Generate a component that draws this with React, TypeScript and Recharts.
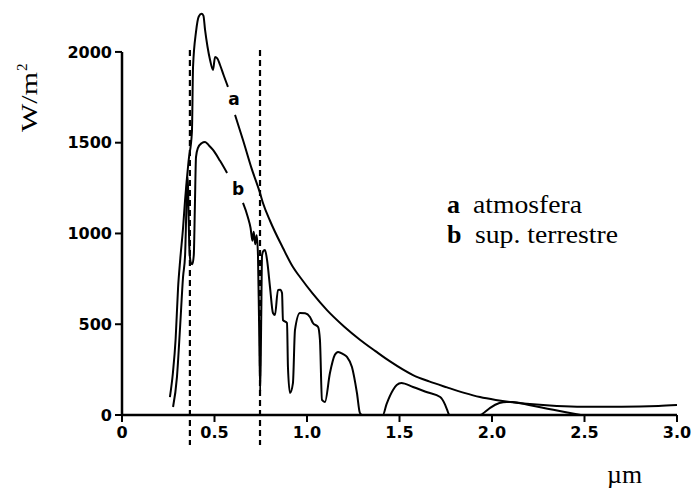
import React from "react";
import { LineChart, Line, XAxis, YAxis, ReferenceLine } from "recharts";

// Curve a: atmosfera (wavelength in µm, irradiance W/m²); null = gap for label
const aWavelength = [
  0.259, 0.275, 0.29, 0.303, 0.315, 0.33, 0.341, 0.36, 0.378, 0.384, 0.4, 0.415, 0.43, 0.44,
  0.449, 0.462, 0.476, 0.492, 0.503, 0.515, 0.53, 0.55, 0.573, 0.592, 0.611, 0.654, 0.7,
  0.746, 0.762, 0.8, 0.87, 0.924, 0.962, 1.03, 1.108, 1.2, 1.286, 1.37, 1.449, 1.573,
  1.66, 1.757, 1.85, 1.935, 2.02, 2.11, 2.205, 2.35, 2.49, 2.7, 2.9, 3.0,
];
const aIrradiance: (number | null)[] = [
  99, 230, 420, 700, 860, 1030, 1185, 1400, 1560, 1917, 2110, 2195, 2210, 2200,
  2121, 2030, 1956, 1901, 1972, 1965, 1928, 1870, 1807, null, 1653, 1515, 1360,
  1223, 1168, 1070, 920, 815, 760, 670, 578, 488, 415, 352, 295, 220,
  185, 152, 122, 99, 83, 70, 60, 50, 46, 46, 50, 55,
];

// Curve b: sup. terrestre
const bWavelength = [
  0.276, 0.297, 0.314, 0.33, 0.341, 0.347, 0.352, 0.356, 0.36, 0.365, 0.372, 0.38, 0.388,
  0.394, 0.4, 0.41, 0.43, 0.449, 0.47, 0.492, 0.53, 0.568, 0.61, 0.654, 0.68, 0.695, 0.705,
  0.712, 0.72, 0.728, 0.735, 0.741, 0.747, 0.752, 0.757, 0.765, 0.773, 0.784, 0.8, 0.816,
  0.827, 0.843, 0.855, 0.865, 0.87, 0.892, 0.897, 0.908, 0.924, 0.935, 0.962, 0.99, 1.016,
  1.032, 1.06, 1.07, 1.081, 1.097, 1.124, 1.15, 1.168, 1.195, 1.216, 1.243, 1.27, 1.286,
  1.3, 1.41, 1.43, 1.465, 1.485, 1.51, 1.573, 1.65, 1.72, 1.745, 1.757, 1.77, 1.935, 1.96,
  1.99, 2.04, 2.08, 2.11, 2.2, 2.3, 2.4, 2.48,
];
const bIrradiance: (number | null)[] = [
  44, 209, 485, 760, 880, 1100, 1290, 1311, 1100, 900, 840, 830, 880,
  1150, 1420, 1470, 1497, 1504, 1485, 1460, 1400, 1333, null, 1168, 1091, 1030, 960,
  1010, 940, 990, 880, 500, 130, 480, 880, 905, 909, 854, 705, 562,
  551, 689, 690, 672, 523, 507, 264, 121, 176, 468, 562, 560, 540,
  507, 485, 413, 83, 72, 231, 330, 347, 335, 320, 264, 121, 11,
  0, 0, 60, 138, 165, 176, 154, 125, 99, 60, 30, 0, 0, 15,
  39, 66, 72, 72, 55, 35, 15, 0,
];

const xTicks = [0, 0.5, 1.0, 1.5, 2.0, 2.5, 3.0];
const yTicks = [0, 500, 1000, 1500, 2000];
const visibleBands = [0.367, 0.746];

const curveA = aWavelength.map((x, i) => ({ x, y: aIrradiance[i] }));
const curveB = bWavelength.map((x, i) => ({ x, y: bIrradiance[i] }));

const PAGE_W = 694;
const PAGE_H = 491;
const W = 686;
const H = 483;
const serif = "'Liberation Serif', 'Times New Roman', serif";
const boldSans = "'DejaVu Sans', sans-serif";

export default function App() {
  return (
    <div style={{ position: "relative", width: PAGE_W, height: PAGE_H, background: "#fff", overflow: "hidden" }}>
      <style>{"html,body{margin:0;padding:0;overflow:hidden}"}</style>
      <div style={{ position: "absolute", left: 8, top: 8, width: W, height: H }}>
        <LineChart width={W} height={H} margin={{ top: 0, right: 17, bottom: 46, left: 0 }}>
          <XAxis
            type="number"
            dataKey="x"
            domain={[0, 3]}
            ticks={xTicks}
            tickFormatter={(v: number) => (v === 0 ? "0" : v.toFixed(1))}
            height={30}
            axisLine={{ stroke: "#000", strokeWidth: 2.5 }}
            tickLine={{ stroke: "#000", strokeWidth: 2 }}
            tickSize={7}
            tickMargin={5}
            tick={{ fill: "#000", fontFamily: boldSans, fontWeight: 700, fontSize: 16 }}
            interval={0}
            allowDuplicatedCategory={false}
          />
          <YAxis
            type="number"
            domain={[0, 2242]}
            ticks={yTicks}
            width={114}
            axisLine={false}
            tickLine={{ stroke: "#000", strokeWidth: 2 }}
            tickSize={7}
            tickMargin={3}
            tick={{ fill: "#000", fontFamily: boldSans, fontWeight: 700, fontSize: 16 }}
          />
          <ReferenceLine
            segment={[{ x: 0, y: 0 }, { x: 0, y: 2000 }]}
            stroke="#000"
            strokeWidth={2.5}
            ifOverflow="visible"
          />
          {visibleBands.map((b) => (
            <ReferenceLine
              key={b}
              segment={[{ x: b, y: 2010 }, { x: b, y: -165 }]}
              stroke="#000"
              strokeWidth={2.2}
              strokeDasharray="6 4"
              ifOverflow="visible"
            />
          ))}
          <Line
            data={curveA}
            dataKey="y"
            type="monotone"
            stroke="#000"
            strokeWidth={2}
            dot={false}
            activeDot={false}
            isAnimationActive={false}
            connectNulls={false}
          />
          <Line
            data={curveB}
            dataKey="y"
            type="monotone"
            stroke="#000"
            strokeWidth={2}
            dot={false}
            activeDot={false}
            isAnimationActive={false}
            connectNulls={false}
          />
        </LineChart>
        <svg
          width={W}
          height={H}
          style={{ position: "absolute", left: 0, top: 0, pointerEvents: "none" }}
        >
          <g transform="translate(29,124) rotate(-90)" fill="#000" fontFamily={serif}>
            <text x={0} y={0} fontSize={24} textLength={60} lengthAdjust="spacingAndGlyphs">
              W/m
            </text>
            <text x={61} y={-10} fontSize={15}>
              2
            </text>
          </g>
          <text x={226} y={97} textAnchor="middle" fontFamily={boldSans} fontWeight={700} fontSize={17} fill="#000">
            a
          </text>
          <text x={230} y={187} textAnchor="middle" fontFamily={boldSans} fontWeight={700} fontSize={17} fill="#000">
            b
          </text>
          <text x={439} y={205} fontFamily={serif} fontWeight={700} fontSize={26} fill="#000">
            a
          </text>
          <text x={465} y={205} fontFamily={serif} fontSize={26} fill="#000" textLength={109} lengthAdjust="spacingAndGlyphs">
            atmosfera
          </text>
          <text x={439} y={235} fontFamily={serif} fontWeight={700} fontSize={26} fill="#000">
            b
          </text>
          <text x={467} y={235} fontFamily={serif} fontSize={26} fill="#000" textLength={143} lengthAdjust="spacingAndGlyphs">
            sup. terrestre
          </text>
          <text x={599} y={475} fontFamily={serif} fontSize={25} fill="#000" textLength={35} lengthAdjust="spacingAndGlyphs">
            µm
          </text>
        </svg>
      </div>
    </div>
  );
}
